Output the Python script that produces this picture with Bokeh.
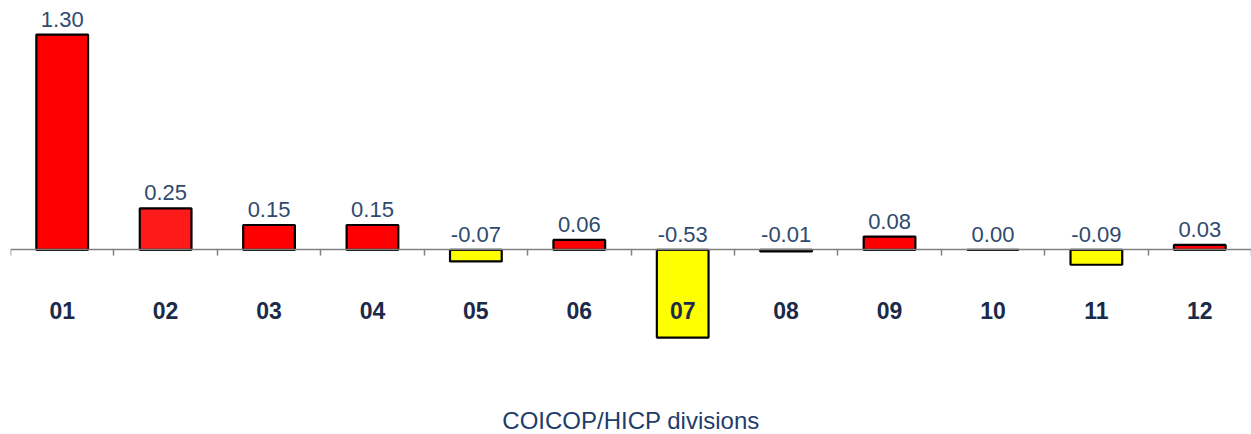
from bokeh.plotting import figure
from bokeh.models import ColumnDataSource, LinearAxis, FixedTicker, Title, Range1d
from bokeh.core.properties import value
from bokeh.embed import file_html
from bokeh.resources import INLINE

categories = ["01", "02", "03", "04", "05", "06", "07", "08", "09", "10", "11", "12"]
values = [1.30, 0.25, 0.15, 0.15, -0.07, 0.06, -0.53, -0.01, 0.08, 0.00, -0.09, 0.03]
bar_colors = ["#FF0000", "#FF1A1A", "#FF0000", "#FF0000", "#FFFF00", "#FF0000",
              "#FFFF00", "#FF0000", "#FF0000", "#FF0000", "#FFFF00", "#FF0000"]
x_title = "COICOP/HICP divisions"

n = len(categories)
xc = [i + 0.5 for i in range(n)]
src = ColumnDataSource(dict(
    x=xc,
    top=values,
    color=bar_colors,
    label=[f"{v:.2f}" for v in values],
    ly=[max(v, 0.0) for v in values],
))

p = figure(width=1251, height=434, output_backend="svg", toolbar_location=None,
           x_axis_type=None, y_axis_type=None,
           x_range=Range1d(0, 12), y_range=Range1d(-0.934, 1.506),
           min_border_left=10, min_border_right=0, min_border_top=0, min_border_bottom=0)
p.outline_line_color = None
p.xgrid.visible = False
p.ygrid.visible = False
p.background_fill_color = "white"

p.vbar(x="x", top="top", bottom=0, width=0.5, source=src,
       fill_color="color", line_color="black", line_width=2.2)

p.text(x="x", y="ly", text="label", source=src, text_align="center",
       text_baseline="bottom", y_offset=-8, text_font=value("Liberation Sans"),
       text_font_size="22px", text_color="#2E4A6E")

# tick axis at category boundaries
tick_axis = LinearAxis(ticker=FixedTicker(ticks=list(range(n + 1))),
                       fixed_location=0, major_tick_in=0, major_tick_out=6,
                       minor_tick_line_color=None,
                       axis_line_color="#808080", axis_line_width=1.5,
                       major_tick_line_color="#808080", major_tick_line_width=1.5,
                       major_label_text_font_size="0px")
tick_axis.major_label_overrides = {i: "" for i in range(n + 1)}
p.add_layout(tick_axis, "below")

# label axis at category centres
label_axis = LinearAxis(ticker=FixedTicker(ticks=xc), fixed_location=0,
                        axis_line_color=None, major_tick_line_color=None,
                        minor_tick_line_color=None, major_label_standoff=46,
                        major_label_text_font="Liberation Sans",
                        major_label_text_font_style="bold",
                        major_label_text_font_size="23px",
                        major_label_text_color="#1B2A48")
label_axis.major_label_overrides = {x: c for x, c in zip(xc, categories)}
p.add_layout(label_axis, "below")

p.add_layout(Title(text=x_title, align="center", text_font="Liberation Sans",
                   text_font_style="normal", text_font_size="24px",
                   standoff=1, text_color="#1F3D6B"), "below")

open("out.html", "w").write(file_html(p, INLINE))
